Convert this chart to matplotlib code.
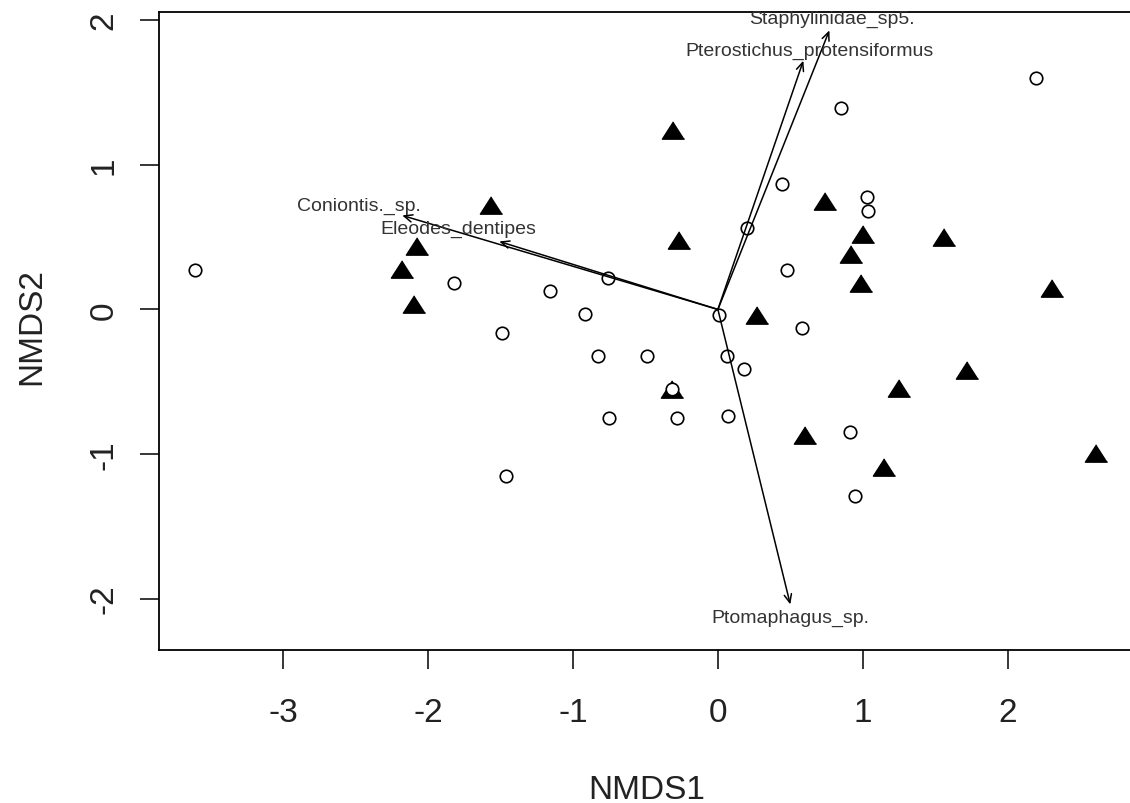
import matplotlib
matplotlib.use("Agg")
import matplotlib.pyplot as plt

plt.rcParams['font.family'] = ['Liberation Sans', 'DejaVu Sans']
plt.rcParams['axes.unicode_minus'] = False

# site scores, two groups (open circles / filled triangles)
circ_x = [-3.61, -1.82, -1.16, -0.76, -1.49, -0.92, -0.83, -0.49, -0.75, -1.46,
          0.07, -0.28, 0.06, 0.18, 0.01, 0.58, 0.91, 0.95, -0.32,
          2.20, 0.85, 0.44, 1.03, 1.04, 0.20, 0.48]
circ_y = [0.27, 0.18, 0.13, 0.22, -0.16, -0.03, -0.32, -0.32, -0.75, -1.15,
          -0.74, -0.75, -0.32, -0.41, -0.04, -0.13, -0.85, -1.29, -0.55,
          1.60, 1.39, 0.87, 0.78, 0.68, 0.56, 0.27]
tri_x = [-1.57, -2.08, -2.18, -2.10, -0.31, -0.27, 0.74, 1.00, 0.92, 0.99,
         1.56, 2.31, 0.27, 1.25, 1.72, 0.60, 1.15, 2.61, -0.32]
tri_y = [0.72, 0.44, 0.28, 0.04, 1.24, 0.48, 0.75, 0.52, 0.38, 0.18,
         0.50, 0.15, -0.04, -0.54, -0.42, -0.87, -1.09, -0.99, -0.55]

# species vectors (envfit)
species = ["Staphylinidae_sp5.", "Pterostichus_protensiformus", "Coniontis._sp.",
           "Eleodes_dentipes", "Ptomaphagus_sp."]
vec_x = [0.77, 0.59, -2.18, -1.51, 0.50]
vec_y = [1.93, 1.72, 0.65, 0.47, -2.04]
lab_x = [0.785, 0.63, -2.48, -1.79, 0.50]
lab_y = [2.01, 1.79, 0.72, 0.56, -2.13]

fig = plt.figure(figsize=(11.3, 8.04), dpi=100)
ax = fig.add_axes([0.1404, 0.1903, 0.8691, 0.7932])

tri_marker = [(0, 0.78), (-1, -0.78), (1, -0.78)]
ax.plot(tri_x, tri_y, linestyle='none', marker=tri_marker, markersize=16,
        color='black', zorder=2)
ax.plot(circ_x, circ_y, linestyle='none', marker='o', markersize=9,
        markerfacecolor='white', markeredgecolor='black', markeredgewidth=1.2,
        zorder=3)

for name, vx, vy, tx, ty in zip(species, vec_x, vec_y, lab_x, lab_y):
    ax.annotate('', xy=(vx, vy), xytext=(0, 0),
                arrowprops=dict(arrowstyle='->,head_length=0.5,head_width=0.22',
                                lw=1.1, color='black', shrinkA=0, shrinkB=0,
                                mutation_scale=12),
                zorder=4)
    ax.text(tx, ty, name, ha='center', va='center', fontsize=14,
            color='#333333', zorder=5)

ax.set_xlim(-3.862, 2.92)
ax.set_ylim(-2.355, 2.055)
ax.set_xticks([-3, -2, -1, 0, 1, 2])
ax.set_yticks([-2, -1, 0, 1, 2])
ax.tick_params(axis='both', length=13.5, width=1.1, labelsize=24,
               colors='black', labelcolor='#222222')
ax.tick_params(axis='x', pad=20)
ax.tick_params(axis='y', pad=14.5)
plt.setp(ax.get_yticklabels(), rotation=90, va='center')
for s in ax.spines.values():
    s.set_linewidth(1.3)

ax.set_xlabel('NMDS1', fontsize=24, color='#222222', va='center')
ax.xaxis.set_label_coords(0.497, -0.219)
ax.set_ylabel('NMDS2', fontsize=24, color='#222222', va='center')
ax.yaxis.set_label_coords(-0.129, 0.5086)

fig.savefig('out.png', dpi=100)
